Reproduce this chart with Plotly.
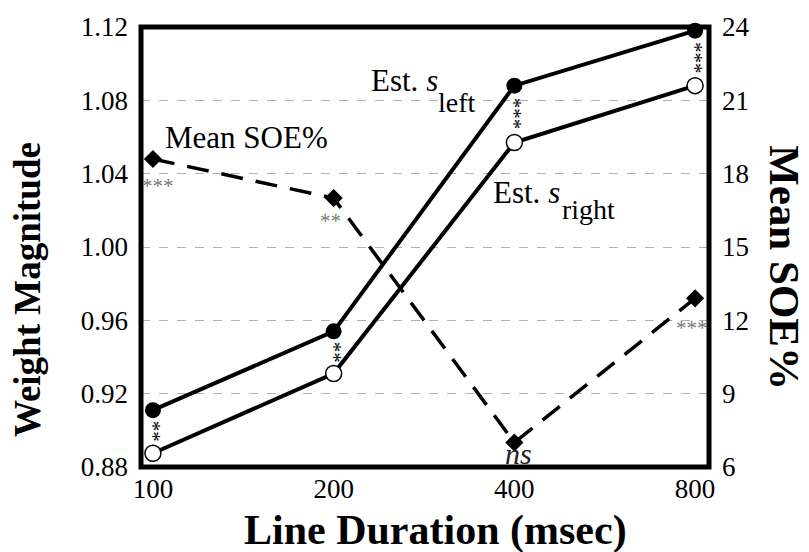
import plotly.graph_objects as go

# Line durations (msec) and the measured series
durations = ["100", "200", "400", "800"]
s_left = [0.911, 0.954, 1.088, 1.118]
s_right = [0.8875, 0.931, 1.057, 1.088]
mean_soe = [18.6, 17.0, 7.0, 12.9]

# significance marks
gap_sig = ["**", "**", "***", "***"]           # between s_left and s_right
soe_sig = ["***", "**", "<i>ns</i>", "***"]     # next to each SOE point

left_ticks = [0.88, 0.92, 0.96, 1.00, 1.04, 1.08, 1.12]
right_ticks = [6, 9, 12, 15, 18, 21, 24]

FONT = "Liberation Serif"
TICK = 27

fig = go.Figure()

fig.add_trace(go.Scatter(
    x=durations, y=mean_soe, yaxis="y2", mode="lines+markers",
    line=dict(color="black", width=3.5, dash="22px,13px"),
    marker=dict(symbol="diamond", size=14, color="black"),
    showlegend=False, cliponaxis=False))

fig.add_trace(go.Scatter(
    x=durations, y=s_right, mode="lines+markers",
    line=dict(color="black", width=4),
    marker=dict(symbol="circle", size=16, color="white",
                line=dict(color="black", width=1.5)),
    showlegend=False, cliponaxis=False))

fig.add_trace(go.Scatter(
    x=durations, y=s_left, mode="lines+markers",
    line=dict(color="black", width=4),
    marker=dict(symbol="circle", size=16, color="black"),
    showlegend=False, cliponaxis=False))

annotations = []

# vertical significance stars between the two estimate curves
for i, (a, b, s) in enumerate(zip(s_left, s_right, gap_sig)):
    annotations.append(dict(
        x=i, y=(a + b) / 2, xref="x", yref="y", text=s, showarrow=False,
        textangle=90, font=dict(family=FONT, size=21, color="black")))

# SOE significance labels (offset in pixels from each diamond)
soe_offsets = [(5, 27), (-3, 23), (4, 11), (-3, 30)]
for i, (v, s, (dx, dy)) in enumerate(zip(mean_soe, soe_sig, soe_offsets)):
    is_ns = "ns" in s
    annotations.append(dict(
        x=i, y=v, xref="x", yref="y2", text=s, showarrow=False,
        xshift=dx, yshift=-dy,
        font=dict(family=FONT, size=30 if is_ns else 21,
                  color="#222" if is_ns else "#777")))


def label(x, y, text, size):
    return dict(x=x, y=y, xref="paper", yref="paper", text=text,
                showarrow=False, xanchor="left", yanchor="middle",
                font=dict(family=FONT, size=size, color="black"))


# series labels (the subscripts are set as their own, lower text)
annotations += [
    label(0.039, 0.75, "Mean SOE%", 31),
    label(0.402, 0.879, "Est. <i>s</i>", 31),
    label(0.520, 0.828, "left", 28),
    label(0.617, 0.624, "Est. <i>s</i>", 31),
    label(0.738, 0.585, "right", 28),
]

# axis titles
annotations += [
    dict(x=-0.20, y=0.403, xref="paper", yref="paper",
         text="<b>Weight Magnitude</b>", showarrow=False, textangle=-90,
         xanchor="center", yanchor="middle",
         font=dict(family=FONT, size=37, color="black")),
    dict(x=0.518, y=-0.145, xref="paper", yref="paper",
         text="<b>Line Duration (msec)</b>", showarrow=False,
         xanchor="center", yanchor="middle",
         font=dict(family=FONT, size=42, color="black")),
    dict(x=1.134, y=0.454, xref="paper", yref="paper",
         text="<b>Mean SOE%</b>", showarrow=False, textangle=90,
         xanchor="center", yanchor="middle",
         font=dict(family=FONT, size=43, color="black")),
]

fig.update_layout(
    width=809, height=552,
    margin=dict(l=141, r=100, t=20, b=85),
    paper_bgcolor="white", plot_bgcolor="white",
    font=dict(family=FONT, size=TICK, color="black"),
    xaxis=dict(
        type="category", range=[-0.066, 3.077],
        showgrid=False, zeroline=False, showline=False, ticks="",
        ticklabelstandoff=3,
        tickfont=dict(family=FONT, size=TICK)),
    yaxis=dict(
        range=[0.88, 1.12], tickvals=left_ticks,
        ticktext=[f"{t:.2f}" for t in left_ticks],
        showgrid=True, gridcolor="#b0b0b0", griddash="dash", gridwidth=1,
        zeroline=False, showline=False, ticks="", ticklabelstandoff=12,
        tickfont=dict(family=FONT, size=TICK)),
    yaxis2=dict(
        overlaying="y", side="right", range=[6, 24], tickvals=right_ticks,
        showgrid=False, zeroline=False, showline=False, ticks="",
        ticklabelstandoff=12, tickfont=dict(family=FONT, size=TICK)),
    annotations=annotations,
    shapes=[dict(type="rect", xref="paper", yref="paper",
                 x0=0, x1=1, y0=0, y1=1,
                 line=dict(color="black", width=5), layer="above")],
)

fig.write_html("out.html")
